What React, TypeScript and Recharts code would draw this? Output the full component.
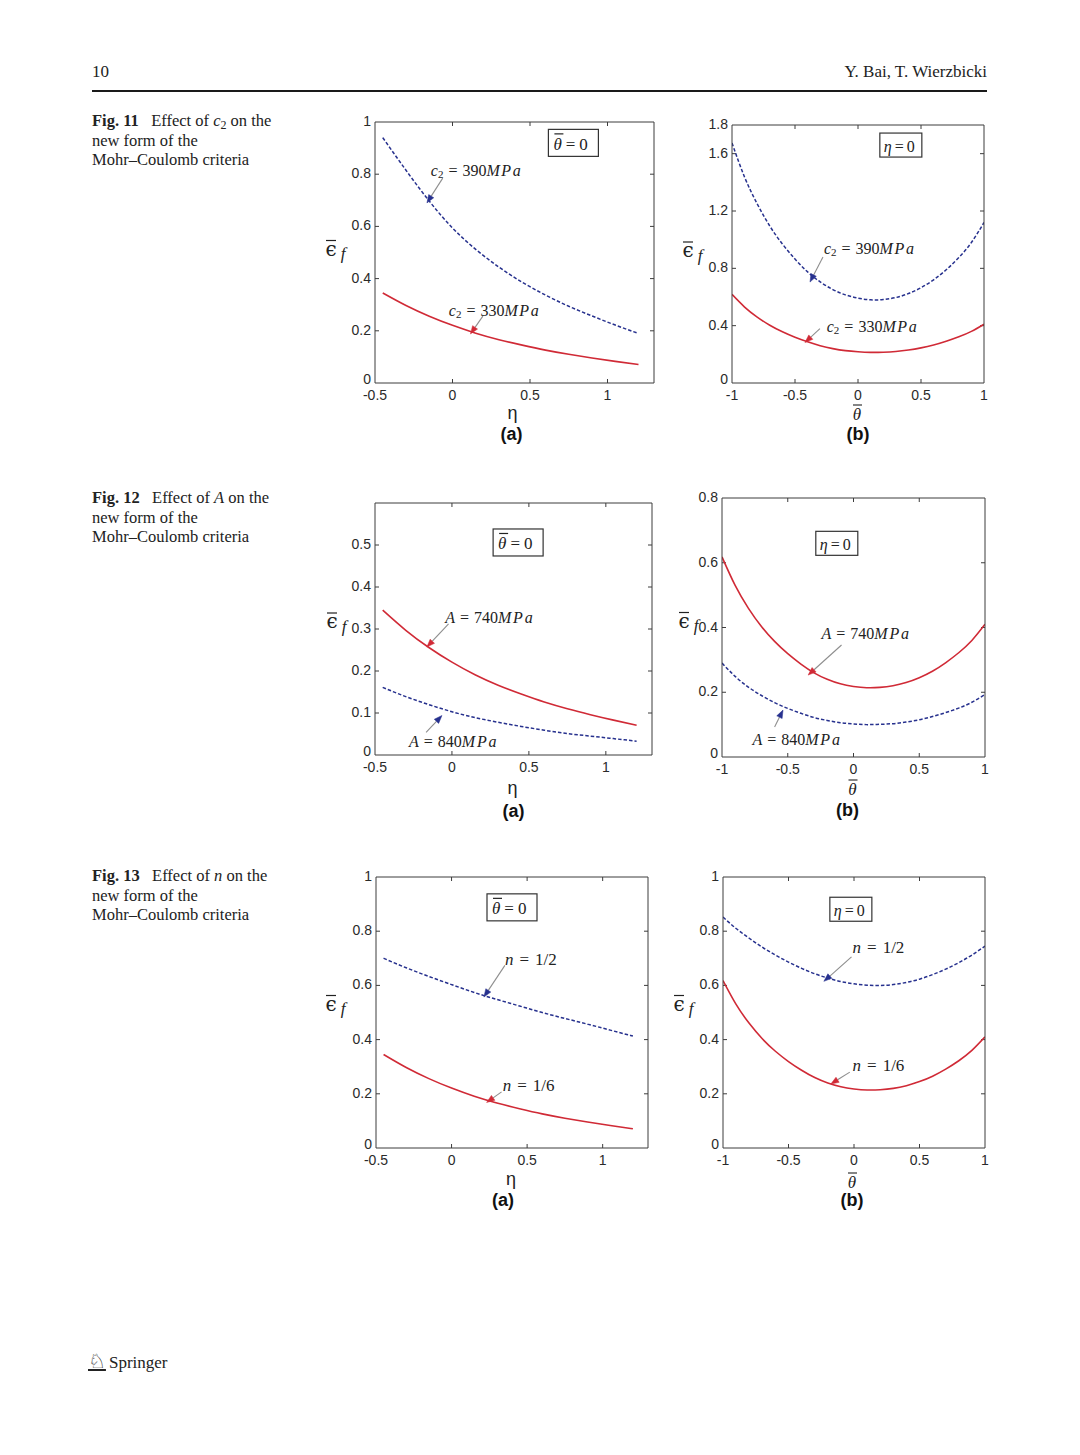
import React from 'react';
import { LineChart, Line, XAxis, YAxis, ReferenceLine, ReferenceDot, Customized } from 'recharts';

// ---------- data ----------
const ETA = [-0.45, -0.3, -0.15, 0, 0.15, 0.3, 0.45, 0.6, 0.75, 0.9, 1.05, 1.2];
const THETA = [-1, -0.9, -0.8, -0.7, -0.6, -0.5, -0.4, -0.3, -0.2, -0.1, 0, 0.1, 0.2, 0.3, 0.4, 0.5, 0.6, 0.7, 0.8, 0.9, 1];

// Fig. 11 (effect of c2)
const fig11a_c2_390 = [0.94, 0.815, 0.697, 0.594, 0.512, 0.444, 0.386, 0.337, 0.294, 0.257, 0.222, 0.19];
const fig11a_c2_330 = [0.345, 0.297, 0.256, 0.221, 0.191, 0.166, 0.145, 0.126, 0.11, 0.096, 0.083, 0.071];
const fig11b_c2_390 = [1.675, 1.436, 1.25, 1.095, 0.97, 0.865, 0.775, 0.705, 0.652, 0.615, 0.592, 0.58, 0.582, 0.596, 0.624, 0.665, 0.72, 0.79, 0.875, 0.98, 1.12];
const fig11b_c2_330 = [0.618, 0.53, 0.46, 0.403, 0.357, 0.319, 0.287, 0.26, 0.24, 0.226, 0.218, 0.214, 0.215, 0.22, 0.23, 0.245, 0.265, 0.291, 0.322, 0.36, 0.41];

// Fig. 12 (effect of A)
const fig12a_A_740 = [0.345, 0.297, 0.256, 0.221, 0.191, 0.166, 0.145, 0.126, 0.11, 0.096, 0.083, 0.071];
const fig12a_A_840 = [0.161, 0.139, 0.12, 0.103, 0.089, 0.078, 0.068, 0.059, 0.051, 0.045, 0.039, 0.033];
const fig12b_A_740 = [0.618, 0.53, 0.46, 0.403, 0.357, 0.319, 0.287, 0.26, 0.24, 0.226, 0.218, 0.214, 0.215, 0.22, 0.23, 0.245, 0.265, 0.291, 0.322, 0.36, 0.41];
const fig12b_A_840 = [0.29, 0.249, 0.216, 0.19, 0.168, 0.15, 0.135, 0.122, 0.113, 0.106, 0.102, 0.1, 0.101, 0.103, 0.108, 0.115, 0.125, 0.137, 0.151, 0.169, 0.193];

// Fig. 13 (effect of n)
const fig13a_n_half = [0.7, 0.665, 0.633, 0.603, 0.574, 0.548, 0.524, 0.5, 0.478, 0.457, 0.435, 0.413];
const fig13a_n_sixth = [0.345, 0.297, 0.256, 0.221, 0.191, 0.166, 0.145, 0.126, 0.11, 0.096, 0.083, 0.071];
const fig13b_n_half = [0.852, 0.81, 0.774, 0.741, 0.712, 0.686, 0.663, 0.643, 0.627, 0.614, 0.606, 0.601, 0.6, 0.603, 0.611, 0.623, 0.64, 0.66, 0.684, 0.712, 0.745];
const fig13b_n_sixth = [0.618, 0.53, 0.46, 0.403, 0.357, 0.319, 0.287, 0.26, 0.24, 0.226, 0.218, 0.214, 0.215, 0.22, 0.23, 0.245, 0.265, 0.291, 0.322, 0.36, 0.41];

// tick labels
const X_TICKS_ETA = [-0.5, 0, 0.5, 1];
const X_TICKS_THETA = [-1, -0.5, 0, 0.5, 1];
const Y_TICKS_UNIT = [0, 0.2, 0.4, 0.6, 0.8, 1];
const Y_TICKS_11B = [0, 0.4, 0.8, 1.2, 1.6, 1.8];
const Y_TICKS_12A = [0, 0.1, 0.2, 0.3, 0.4, 0.5];
const Y_TICKS_12B = [0, 0.2, 0.4, 0.6, 0.8];

// ---------- styles ----------
const BLUE = '#27318e';
const RED = '#d02a36';
const ARROW_GRAY = '#8e8e8e';
const AXIS = '#3c3c3c';
const SANS = '"Liberation Sans", Arial, Helvetica, sans-serif';
const SERIF = '"Liberation Serif", "Times New Roman", serif';
const TICK_LEN = 4;

const ML = 75;
const MT = 20;
const MR = 16;
const MB = 75;

type Ann = {
  kind: 'c2' | 'A' | 'n';
  value: string;
  color: string;
  tx: number; ty: number;
  x1: number; y1: number;
  x2: number; y2: number;
};

type Cfg = {
  L: number; T: number; W: number; H: number;
  xs: number[]; blue: number[]; red: number[];
  xDomain: [number, number]; xTicks: number[];
  yDomain: [number, number]; yTicks: number[];
  xKind: 'eta' | 'theta';
  panel: string;
  box: { kind: 'theta' | 'eta'; x: number; y: number };
  anns: Ann[];
  xLab: [number, number]; pan: [number, number]; yLab: [number, number];
};

function YTick(p: any) {
  const lift = p.index === 0 ? 4 : 1;
  return (
    <text x={p.x} y={p.y - lift} textAnchor="end" dominantBaseline="central" fontFamily={SANS} fontSize={14} fill="#2a2a2a">
      {String(p.payload.value)}
    </text>
  );
}

function XTick(p: any) {
  return (
    <text x={p.x} y={p.y + 8} textAnchor="middle" dominantBaseline="central" fontFamily={SANS} fontSize={14} fill="#2a2a2a">
      {String(p.payload.value)}
    </text>
  );
}

function HTickShape(p: any) {
  const a = Math.min(p.x1, p.x2);
  const b = Math.max(p.x1, p.x2);
  return (
    <g>
      <line x1={a} x2={a + TICK_LEN} y1={p.y1} y2={p.y1} stroke={AXIS} strokeWidth={1} />
      <line x1={b - TICK_LEN} x2={b} y1={p.y1} y2={p.y1} stroke={AXIS} strokeWidth={1} />
    </g>
  );
}

function VTickShape(p: any) {
  const a = Math.min(p.y1, p.y2);
  const b = Math.max(p.y1, p.y2);
  return (
    <g>
      <line x1={p.x1} x2={p.x1} y1={a} y2={a + TICK_LEN} stroke={AXIS} strokeWidth={1} />
      <line x1={p.x1} x2={p.x1} y1={b - TICK_LEN} y2={b} stroke={AXIS} strokeWidth={1} />
    </g>
  );
}

function AnnText({ cx, cy, kind, value }: { cx: number; cy: number; kind: string; value: string }) {
  const common = { fontFamily: SERIF, fill: '#222' };
  if (kind === 'c2') {
    return (
      <text x={cx} y={cy} dominantBaseline="central" fontSize={16} {...common}>
        <tspan fontStyle="italic">c</tspan>
        <tspan fontSize={11} dy={4}>2</tspan>
        <tspan dy={-4} dx={5}>=</tspan>
        <tspan dx={5}>{value}</tspan>
        <tspan fontStyle="italic" letterSpacing={1.6}>MPa</tspan>
      </text>
    );
  }
  if (kind === 'A') {
    return (
      <text x={cx} y={cy} dominantBaseline="central" fontSize={16} {...common}>
        <tspan fontStyle="italic">A</tspan>
        <tspan dx={5}>=</tspan>
        <tspan dx={5}>{value}</tspan>
        <tspan fontStyle="italic" letterSpacing={1.8}>MPa</tspan>
      </text>
    );
  }
  return (
    <text x={cx} y={cy} dominantBaseline="central" fontSize={17} {...common}>
      <tspan fontStyle="italic">n</tspan>
      <tspan dx={6}>=</tspan>
      <tspan dx={6}>{value}</tspan>
    </text>
  );
}

function Arrow({ x1, y1, x2, y2, color }: { x1: number; y1: number; x2: number; y2: number; color: string }) {
  const ang = Math.atan2(y2 - y1, x2 - x1);
  const len = 8;
  const hw = 3;
  const bx = x2 - len * Math.cos(ang);
  const by = y2 - len * Math.sin(ang);
  const px = -Math.sin(ang) * hw;
  const py = Math.cos(ang) * hw;
  return (
    <g>
      <line x1={x1} y1={y1} x2={bx} y2={by} stroke={ARROW_GRAY} strokeWidth={1.1} />
      <polygon points={`${x2},${y2} ${bx + px},${by + py} ${bx - px},${by - py}`} fill={color} stroke={color} strokeWidth={0.5} />
    </g>
  );
}

function Box({ cx, cy, kind }: { cx: number; cy: number; kind: string }) {
  const isTheta = kind === 'theta';
  const w = isTheta ? 50 : 42;
  const h = isTheta ? 27 : 24;
  const startX = cx - w / 2 + (isTheta ? 5 : 4);
  return (
    <g>
      <rect x={cx - w / 2} y={cy - h / 2} width={w} height={h} fill="#fff" stroke="#333" strokeWidth={1.2} />
      <text x={startX} y={cy + 1} dominantBaseline="central" fontFamily={SERIF} fontSize={isTheta ? 17 : 16} fill="#222">
        <tspan fontStyle="italic">{isTheta ? 'θ' : 'η'}</tspan>
        <tspan dx={isTheta ? 4 : 3}>=</tspan>
        <tspan dx={isTheta ? 4 : 3}>0</tspan>
      </text>
      {isTheta ? (
        <line x1={startX + 1} x2={startX + 10} y1={cy - 9} y2={cy - 9} stroke="#222" strokeWidth={1.2} />
      ) : null}
    </g>
  );
}

function AxisLabels({ cfg }: { cfg: Cfg }) {
  const cxPlot = ML + cfg.W / 2;
  const bottom = MT + cfg.H;
  const yx = ML - cfg.yLab[0];
  const yy = MT + cfg.H / 2 + cfg.yLab[1];
  const xx = cxPlot + cfg.xLab[0];
  const xy = bottom + cfg.xLab[1];
  return (
    <g>
      <text x={yx - 4} y={yy} textAnchor="middle" dominantBaseline="central" fontFamily='"DejaVu Serif", serif' fontSize={20} fill="#222">ϵ</text>
      <line x1={yx - 9} x2={yx + 1} y1={yy - 8} y2={yy - 8} stroke="#222" strokeWidth={1.2} />
      <text x={yx + 8} y={yy + 5} textAnchor="middle" dominantBaseline="central" fontFamily={SERIF} fontStyle="italic" fontSize={17} fill="#222">f</text>
      {cfg.xKind === 'eta' ? (
        <text x={xx} y={xy} textAnchor="middle" dominantBaseline="central" fontFamily={SANS} fontSize={18} fill="#222">η</text>
      ) : (
        <g>
          <text x={xx} y={xy + 2} textAnchor="middle" dominantBaseline="central" fontFamily={SERIF} fontStyle="italic" fontSize={17} fill="#222">θ</text>
          <line x1={xx - 4} x2={xx + 5} y1={xy - 7} y2={xy - 7} stroke="#222" strokeWidth={1.1} />
        </g>
      )}
      <text x={cxPlot + cfg.pan[0]} y={bottom + cfg.pan[1]} textAnchor="middle" dominantBaseline="central" fontFamily={SANS} fontWeight="bold" fontSize={18} fill="#111">{cfg.panel}</text>
    </g>
  );
}

function Panel({ cfg }: { cfg: Cfg }) {
  const width = cfg.W + ML + MR;
  const height = cfg.H + MT + MB;
  const data = cfg.xs.map((x, i) => ({ x, blue: cfg.blue[i], red: cfg.red[i] }));
  const innerY = cfg.yTicks.filter((v) => v > cfg.yDomain[0] && v < cfg.yDomain[1]);
  const innerX = cfg.xTicks.filter((v) => v > cfg.xDomain[0] && v < cfg.xDomain[1]);
  return (
    <div style={{ position: 'absolute', left: cfg.L - ML, top: cfg.T - MT, width, height }}>
      <LineChart width={width} height={height} data={data} margin={{ top: MT - 1, right: MR - 1, bottom: MB - 30, left: ML - 40 }}>
        <XAxis xAxisId="b" type="number" dataKey="x" domain={cfg.xDomain} ticks={cfg.xTicks} interval={0}
          allowDataOverflow height={30} tickSize={0} tickMargin={4} tickLine={false} stroke={AXIS} tick={XTick} />
        <XAxis xAxisId="t" orientation="top" type="number" dataKey="x" domain={cfg.xDomain} ticks={cfg.xTicks} interval={0}
          allowDataOverflow height={1} tickLine={false} tick={false} stroke={AXIS} />
        <YAxis yAxisId="l" type="number" domain={cfg.yDomain} ticks={cfg.yTicks} interval={0}
          allowDataOverflow width={40} tickSize={0} tickMargin={4} tickLine={false} stroke={AXIS} tick={YTick} />
        <YAxis yAxisId="r" orientation="right" type="number" domain={cfg.yDomain} ticks={cfg.yTicks} interval={0}
          allowDataOverflow width={1} tickLine={false} tick={false} stroke={AXIS} />
        {innerY.map((v) => (
          <ReferenceLine key={'yt' + v} xAxisId="b" yAxisId="l" y={v} shape={HTickShape} />
        ))}
        {innerX.map((v) => (
          <ReferenceLine key={'xt' + v} xAxisId="b" yAxisId="l" x={v} shape={VTickShape} />
        ))}
        <Line xAxisId="b" yAxisId="l" type="natural" dataKey="blue" stroke={BLUE} strokeWidth={1.5}
          strokeDasharray="3.5 2" dot={false} activeDot={false} isAnimationActive={false} />
        <Line xAxisId="b" yAxisId="l" type="natural" dataKey="red" stroke={RED} strokeWidth={1.6}
          dot={false} activeDot={false} isAnimationActive={false} />
        {cfg.anns.map((a, i) => (
          <ReferenceLine key={'al' + i} xAxisId="b" yAxisId="l"
            segment={[{ x: a.x1, y: a.y1 }, { x: a.x2, y: a.y2 }]}
            shape={(p: any) => <Arrow x1={p.x1} y1={p.y1} x2={p.x2} y2={p.y2} color={a.color} />} />
        ))}
        {cfg.anns.map((a, i) => (
          <ReferenceDot key={'at' + i} xAxisId="b" yAxisId="l" x={a.tx} y={a.ty} r={0}
            shape={(p: any) => <AnnText cx={p.cx} cy={p.cy} kind={a.kind} value={a.value} />} />
        ))}
        <ReferenceDot xAxisId="b" yAxisId="l" x={cfg.box.x} y={cfg.box.y} r={0}
          shape={(p: any) => <Box cx={p.cx} cy={p.cy} kind={cfg.box.kind} />} />
        <Customized component={() => <AxisLabels cfg={cfg} />} />
      </LineChart>
    </div>
  );
}

const PANELS: Cfg[] = [
  {
    L: 375, T: 122, W: 279, H: 261, xs: ETA, blue: fig11a_c2_390, red: fig11a_c2_330,
    xDomain: [-0.5, 1.3], xTicks: X_TICKS_ETA, yDomain: [0, 1], yTicks: Y_TICKS_UNIT, xKind: 'eta', panel: '(a)',
    box: { kind: 'theta', x: 0.78, y: 0.92 },
    anns: [
      { kind: 'c2', value: '390', color: BLUE, tx: -0.14, ty: 0.815, x1: -0.063, y1: 0.785, x2: -0.165, y2: 0.69 },
      { kind: 'c2', value: '330', color: RED, tx: -0.024, ty: 0.279, x1: 0.196, y1: 0.256, x2: 0.116, y2: 0.188 },
    ],
    xLab: [-2, 30], pan: [-3, 51], yLab: [40, -4],
  },
  {
    L: 732, T: 125, W: 252, H: 258, xs: THETA, blue: fig11b_c2_390, red: fig11b_c2_330,
    xDomain: [-1, 1], xTicks: X_TICKS_THETA, yDomain: [0, 1.8], yTicks: Y_TICKS_11B, xKind: 'theta', panel: '(b)',
    box: { kind: 'eta', x: 0.34, y: 1.66 },
    anns: [
      { kind: 'c2', value: '390', color: BLUE, tx: -0.27, ty: 0.94, x1: -0.278, y1: 0.879, x2: -0.381, y2: 0.704 },
      { kind: 'c2', value: '330', color: RED, tx: -0.248, ty: 0.401, x1: -0.302, y1: 0.38, x2: -0.421, y2: 0.282 },
    ],
    xLab: [-1, 29], pan: [0, 51], yLab: [40, -4],
  },
  {
    L: 374.5, T: 502.5, W: 277, H: 252, xs: ETA, blue: fig12a_A_840, red: fig12a_A_740,
    xDomain: [-0.5, 1.3], xTicks: X_TICKS_ETA, yDomain: [0, 0.6], yTicks: Y_TICKS_12A, xKind: 'eta', panel: '(a)',
    box: { kind: 'theta', x: 0.43, y: 0.506 },
    anns: [
      { kind: 'A', value: '740', color: RED, tx: -0.044, ty: 0.328, x1: -0.022, y1: 0.312, x2: -0.163, y2: 0.257 },
      { kind: 'A', value: '840', color: BLUE, tx: -0.279, ty: 0.034, x1: -0.168, y1: 0.054, x2: -0.065, y2: 0.094 },
    ],
    xLab: [-1, 33], pan: [0, 56], yLab: [39, -8],
  },
  {
    L: 722, T: 498, W: 263, H: 259, xs: THETA, blue: fig12b_A_840, red: fig12b_A_740,
    xDomain: [-1, 1], xTicks: X_TICKS_THETA, yDomain: [0, 0.8], yTicks: Y_TICKS_12B, xKind: 'theta', panel: '(b)',
    box: { kind: 'eta', x: -0.127, y: 0.66 },
    anns: [
      { kind: 'A', value: '740', color: RED, tx: -0.243, ty: 0.383, x1: -0.091, y1: 0.346, x2: -0.345, y2: 0.253 },
      { kind: 'A', value: '840', color: BLUE, tx: -0.769, ty: 0.055, x1: -0.6, y1: 0.093, x2: -0.536, y2: 0.145 },
    ],
    xLab: [-1, 30], pan: [-6, 53], yLab: [34, -7],
  },
  {
    L: 375.5, T: 877, W: 272, H: 271, xs: ETA, blue: fig13a_n_half, red: fig13a_n_sixth,
    xDomain: [-0.5, 1.3], xTicks: X_TICKS_ETA, yDomain: [0, 1], yTicks: Y_TICKS_UNIT, xKind: 'eta', panel: '(a)',
    box: { kind: 'theta', x: 0.4, y: 0.888 },
    anns: [
      { kind: 'n', value: '1/2', color: BLUE, tx: 0.353, ty: 0.699, x1: 0.353, y1: 0.674, x2: 0.214, y2: 0.557 },
      { kind: 'n', value: '1/6', color: RED, tx: 0.338, ty: 0.231, x1: 0.331, y1: 0.207, x2: 0.232, y2: 0.168 },
    ],
    xLab: [-1, 31], pan: [-9, 52], yLab: [41, -9],
  },
  {
    L: 723, T: 877, W: 262, H: 271, xs: THETA, blue: fig13b_n_half, red: fig13b_n_sixth,
    xDomain: [-1, 1], xTicks: X_TICKS_THETA, yDomain: [0, 1], yTicks: Y_TICKS_UNIT, xKind: 'theta', panel: '(b)',
    box: { kind: 'eta', x: -0.024, y: 0.881 },
    anns: [
      { kind: 'n', value: '1/2', color: BLUE, tx: -0.011, ty: 0.742, x1: -0.019, y1: 0.705, x2: -0.23, y2: 0.615 },
      { kind: 'n', value: '1/6', color: RED, tx: -0.011, ty: 0.305, x1: -0.032, y1: 0.28, x2: -0.177, y2: 0.236 },
    ],
    xLab: [-2, 32], pan: [-2, 52], yLab: [40, -9],
  },
];

const CAPTIONS = [
  { top: 111, fig: 'Fig. 11', sym: 'c', sub: '2', rest: ' on the' },
  { top: 488, fig: 'Fig. 12', sym: 'A', sub: '', rest: ' on the' },
  { top: 866, fig: 'Fig. 13', sym: 'n', sub: '', rest: ' on the' },
];

function Caption({ c }: { c: typeof CAPTIONS[number] }) {
  return (
    <div style={{ position: 'absolute', left: 92, top: c.top, fontFamily: SERIF, fontSize: 16.5, lineHeight: '19.5px', color: '#222', whiteSpace: 'nowrap' }}>
      <div>
        <b>{c.fig}</b>
        <span>{'\u00a0\u00a0 Effect of '}</span>
        <i>{c.sym}</i>
        {c.sub ? <span style={{ fontSize: 12, position: 'relative', top: 3, lineHeight: 0 }}>{c.sub}</span> : null}
        <span>{c.rest}</span>
      </div>
      <div>new form of the</div>
      <div>Mohr–Coulomb criteria</div>
    </div>
  );
}

export default function App() {
  return (
    <div style={{ position: 'absolute', left: 0, top: 0, width: 1080, height: 1455, background: '#fff', overflow: 'hidden' }}>
      <div style={{ position: 'absolute', left: 92, top: 61, fontFamily: SERIF, fontSize: 17, lineHeight: '22px', color: '#222' }}>10</div>
      <div style={{ position: 'absolute', right: 1080 - 987, top: 61, fontFamily: SERIF, fontSize: 17, lineHeight: '22px', color: '#222', whiteSpace: 'nowrap' }}>Y. Bai, T. Wierzbicki</div>
      <div style={{ position: 'absolute', left: 92, top: 90, width: 895, height: 2, background: '#1a1a1a' }} />
      {CAPTIONS.map((c) => <Caption key={c.fig} c={c} />)}
      {PANELS.map((p, i) => <Panel key={i} cfg={p} />)}
      <div style={{ position: 'absolute', left: 88, top: 1349, fontFamily: SERIF, fontSize: 17, lineHeight: '24px', color: '#222', whiteSpace: 'nowrap' }}>
        <span style={{ fontFamily: '"DejaVu Sans", sans-serif', fontSize: 20, textDecoration: 'underline' }}>♘</span>
        <span style={{ marginLeft: 3 }}>Springer</span>
      </div>
    </div>
  );
}
